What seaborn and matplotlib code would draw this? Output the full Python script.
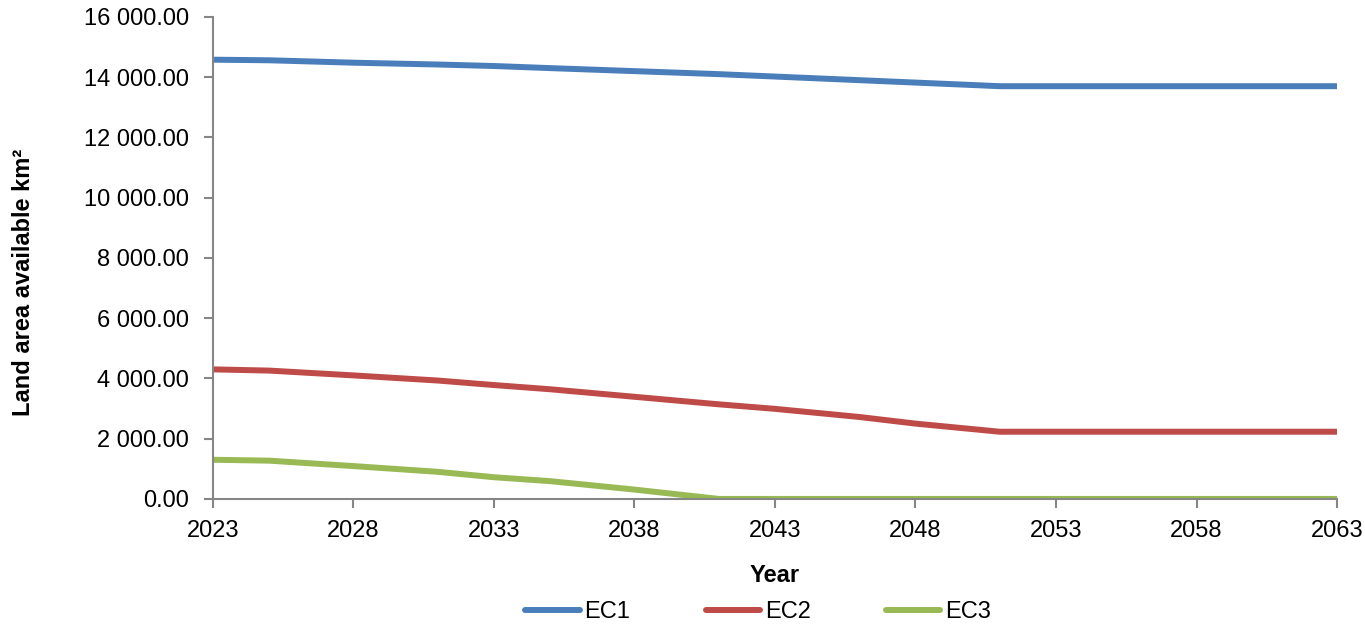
import matplotlib
matplotlib.use("Agg")
import matplotlib.pyplot as plt
import matplotlib.ticker as mticker
import pandas as pd
import seaborn as sns

# Land area available per scenario (km²)
years = [2023, 2025, 2028, 2031, 2033, 2035, 2038, 2041, 2043, 2046, 2048, 2051, 2053, 2058, 2063]
ec1 = [14580, 14560, 14480, 14420, 14370, 14300, 14200, 14100, 14020, 13900, 13820, 13700, 13700, 13700, 13700]
ec2 = [4300, 4260, 4100, 3930, 3780, 3640, 3390, 3140, 2990, 2720, 2500, 2230, 2230, 2230, 2230]
ec3 = [1300, 1270, 1090, 900, 720, 590, 310, 0, 0, 0, 0, 0, 0, 0, 0]
series_names = ["EC1", "EC2", "EC3"]
colors = ["#4A7EBB", "#BE4B48", "#98B954"]
x_ticks = [2023, 2028, 2033, 2038, 2043, 2048, 2053, 2058, 2063]
y_ticks = [0, 2000, 4000, 6000, 8000, 10000, 12000, 14000, 16000]

frames = []
for name, vals in zip(series_names, [ec1, ec2, ec3]):
    frames.append(pd.DataFrame({"Year": years, "Area": vals, "Series": name}))
df = pd.concat(frames, ignore_index=True)

sns.set_theme(style="white")
plt.rcParams["font.family"] = ["Liberation Sans", "DejaVu Sans"]
plt.rcParams["text.color"] = "black"
plt.rcParams["axes.labelcolor"] = "black"

fig = plt.figure(figsize=(13.65, 6.26), dpi=100)
ax = fig.add_axes([0.156, 0.203, 0.8235, 0.770])

sns.lineplot(data=df, x="Year", y="Area", hue="Series", palette=colors,
             linewidth=4.3, ax=ax, legend=True)
for line in ax.lines:
    line.set_solid_capstyle("round")
    line.set_solid_joinstyle("round")

ax.set_xlim(2023, 2063)
ax.set_ylim(0, 16000)
ax.set_xticks(x_ticks)
ax.set_yticks(y_ticks)
ax.yaxis.set_major_formatter(mticker.FuncFormatter(
    lambda v, p: f"{v:,.2f}".replace(",", " ")))

gray = "#868686"
for side in ["top", "right"]:
    ax.spines[side].set_visible(False)
for side in ["left", "bottom"]:
    ax.spines[side].set_color(gray)
    ax.spines[side].set_linewidth(1.5)
ax.tick_params(axis="both", which="major", direction="out", length=6.5, width=1.5,
               color=gray, labelsize=17, labelcolor="black",
               left=True, bottom=True)
ax.tick_params(axis="y", pad=11)
ax.tick_params(axis="x", pad=9)

ax.set_xlabel("Year", fontsize=17, fontweight="bold", color="black")
ax.set_ylabel("Land area available km²", fontsize=17, fontweight="bold", color="black")
ax.xaxis.set_label_coords(0.5, -0.135)
ax.yaxis.set_label_coords(-0.158, 0.45)

handles, labels = ax.get_legend_handles_labels()
for h in handles:
    h.set_linewidth(4.3)
    h.set_solid_capstyle("round")
ax.legend(handles, labels, loc="center", bbox_to_anchor=(0.485, -0.235),
          ncol=3, frameon=False, fontsize=17, handlelength=2.3,
          handletextpad=0.2, columnspacing=3.2, labelcolor="black")

fig.savefig("out.png", dpi=100)
